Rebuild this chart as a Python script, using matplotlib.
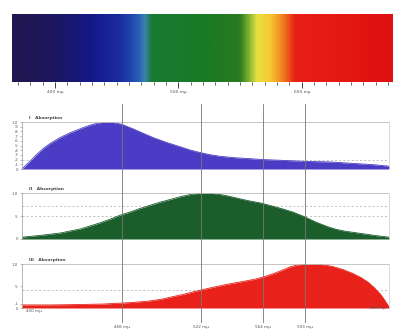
import numpy as np
import matplotlib.pyplot as plt
from matplotlib.colors import LinearSegmentedColormap

# ---- data ----
spec_nm = [365, 400, 430, 450, 460, 468, 473, 478, 520, 550, 557, 564, 575, 585, 595, 674]
spec_colors = ["#241650", "#1c1660", "#15188a", "#1a2a9c", "#1e40aa", "#2a62b8", "#3a84a8", "#1a7a34",
               "#187a25", "#2a7a20", "#7ab030", "#e8e040", "#f8c830", "#f08020", "#e82018", "#e01010"]
spec_labels_nm = [400, 500, 600]

blue_nm = [400, 405, 410, 415, 420, 426, 432, 440, 446, 452, 457, 462, 468, 476, 484, 490, 499,
           505, 510, 515, 520, 527, 535, 545, 555, 565, 580, 595, 610, 625, 640, 650]
blue_val = [0.0, 0.15, 0.31, 0.45, 0.56, 0.67, 0.76, 0.86, 0.93, 0.98, 1.0, 0.99, 0.95, 0.85, 0.74,
            0.66, 0.56, 0.50, 0.45, 0.40, 0.36, 0.31, 0.27, 0.24, 0.22, 0.20, 0.18, 0.16, 0.15,
            0.12, 0.09, 0.06]

green_nm = [400, 413, 426, 440, 453, 460, 467, 474, 480, 487, 494, 501, 508, 515, 522, 530, 538,
            545, 553, 563, 570, 578, 585, 592, 600, 608, 614, 620, 631, 642, 650]
green_val = [0.04, 0.08, 0.13, 0.22, 0.35, 0.43, 0.52, 0.59, 0.66, 0.73, 0.80, 0.86, 0.92, 0.97,
             1.0, 0.99, 0.95, 0.90, 0.84, 0.78, 0.72, 0.65, 0.58, 0.49, 0.37, 0.27, 0.21, 0.17,
             0.12, 0.07, 0.04]

red_nm = [400, 420, 440, 455, 467, 477, 487, 495, 503, 510, 517, 522, 530, 540, 550, 558, 565,
          572, 578, 583, 588, 594, 600, 606, 612, 619, 625, 631, 636, 640, 644, 647, 650]
red_val = [0.07, 0.07, 0.08, 0.09, 0.11, 0.13, 0.16, 0.20, 0.26, 0.31, 0.37, 0.41, 0.47, 0.54,
           0.60, 0.65, 0.71, 0.79, 0.87, 0.94, 0.98, 1.0, 1.0, 0.98, 0.94, 0.87, 0.79, 0.69,
           0.58, 0.46, 0.32, 0.18, 0.02]

marker_nm = [468, 522, 564, 593]
panel_titles = ["I   Absorption", "II   Absorption", "III   Absorption"]

W, H = 393, 329
fig = plt.figure(figsize=(W / 100, H / 100), dpi=100)
fig.patch.set_facecolor("white")

def rect(x0, y0, x1, y1):
    return [x0 / W, 1 - y1 / H, (x1 - x0) / W, (y1 - y0) / H]

# ---- spectrum bar ----
ax_s = fig.add_axes(rect(12, 14, 393, 82))
lo, hi = spec_nm[0], spec_nm[-1]
cmap = LinearSegmentedColormap.from_list(
    "spec", [((n - lo) / (hi - lo), c) for n, c in zip(spec_nm, spec_colors)])
grad = np.linspace(0, 1, 600)[None, :]
ax_s.imshow(grad, aspect="auto", cmap=cmap, extent=[lo, hi, 0, 1])
ax_s.set_xlim(lo, hi)
ax_s.set_ylim(0, 1)
ax_s.set_yticks([])
for s in ax_s.spines.values():
    s.set_visible(False)
ax_s.set_xticks(np.arange(370, 671, 10), minor=True)
ax_s.set_xticks(spec_labels_nm)
ax_s.set_xticklabels([f"{v} mμ" for v in spec_labels_nm], fontsize=3.2, color="#555555")
ax_s.tick_params(axis="x", which="minor", length=2.5, width=0.5, color="#222222")
ax_s.tick_params(axis="x", which="major", length=4, width=0.6, color="#222222", pad=2)

# ---- absorption panels ----
panel_rects = [(22, 122, 389, 169), (22, 193, 389, 239), (22, 264, 389, 308)]
series = [(blue_nm, blue_val, "#4a3cc4"), (green_nm, green_val, "#1b5e2c"), (red_nm, red_val, "#e8221a")]
yticks_list = [[0, .1, .2, .3, .4, .5, .6, .7, .8, .9, 1.0], [0, .5, 1.0], [0, .1, .5, 1.0]]
dashes_list = [[0.2], [0.5, 0.72], [0.4]]

for (x0, y0, x1, y1), (nm, val, col), title, yt, dl in zip(panel_rects, series, panel_titles,
                                                           yticks_list, dashes_list):
    ax = fig.add_axes(rect(x0, y0, x1, y1))
    ax.fill_between(nm, 0, val, color=col, lw=0)
    ax.plot(nm, val, color=col, lw=0.6)
    ax.set_xlim(400, 650)
    ax.set_ylim(0, 1.0)
    ax.axhline(1.0, color="#bbbbbb", lw=0.6)
    for d in dl:
        ax.axhline(d, color="#aaaaaa", lw=0.5, ls=(0, (3, 3)), zorder=0)
    for side in ["top", "bottom"]:
        ax.spines[side].set_visible(False)
    ax.spines["left"].set_color("#999999")
    ax.spines["right"].set_color("#cccccc")
    ax.spines["left"].set_linewidth(0.5)
    ax.spines["right"].set_linewidth(0.5)
    ax.set_xticks([])
    ax.set_yticks(yt)
    ax.set_yticklabels([("1.0" if v == 1.0 else ("0" if v == 0 else f"{v:.1f}".lstrip("0"))) for v in yt],
                       fontsize=2.8, color="#555555")
    ax.tick_params(axis="y", length=1.5, width=0.4, pad=1.5, color="#888888")
    ax.text(0.02, 1.04, title, transform=ax.transAxes, fontsize=3.2, color="#444444",
            fontweight="bold", va="bottom", ha="left")
    ax.patch.set_alpha(0)

# ---- vertical marker lines across panels ----
ax_v = fig.add_axes(rect(22, 104, 389, 323))
ax_v.set_xlim(400, 650)
ax_v.set_ylim(0, 1)
ax_v.axis("off")
ax_v.patch.set_alpha(0)
for m in marker_nm:
    ax_v.axvline(m, color="#777777", lw=0.6)
    ax_v.text(m, -0.01, f"{m} mμ", fontsize=3.0, color="#555555", ha="center", va="top")
ax_v.text(403, 0.055, "400 mμ", fontsize=3.0, color="#555555", ha="left", va="center")
ax_v.text(648, 0.07, "650 mμ", fontsize=3.0, color="#555555", ha="right", va="center")

fig.savefig("out.png", dpi=100, facecolor="white")
